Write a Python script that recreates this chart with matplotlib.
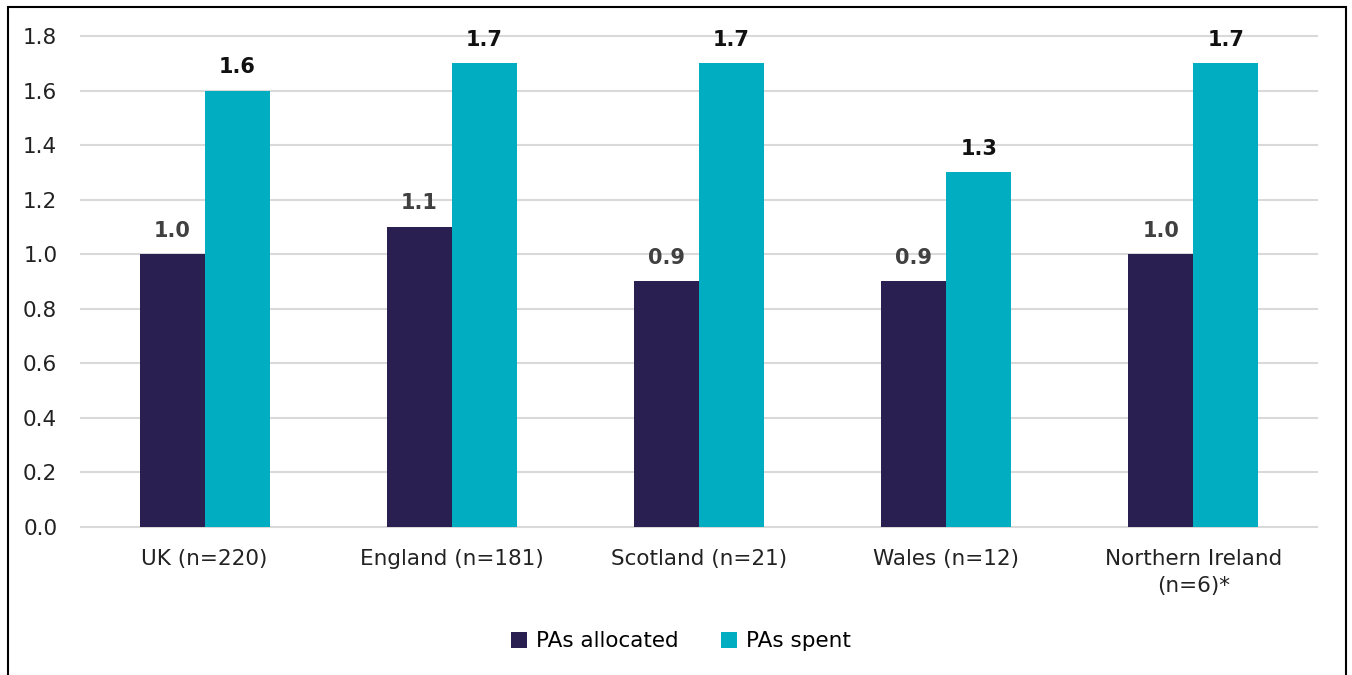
import matplotlib.pyplot as plt
import numpy as np
from matplotlib.patches import Rectangle

plt.rcParams['font.family'] = ['DejaVu Sans']

# Average PAs per nation
nations = ["UK (n=220)", "England (n=181)", "Scotland (n=21)", "Wales (n=12)",
           "Northern Ireland\n(n=6)*"]
pas_allocated = [1.0, 1.1, 0.9, 0.9, 1.0]
pas_spent = [1.6, 1.7, 1.7, 1.3, 1.7]

c_alloc = "#2a1f51"
c_spent = "#00adc1"

fig = plt.figure(figsize=(13.52, 6.75), dpi=100)
ax = fig.add_axes([0.0599, 0.2193, 0.9142, 0.7274])

x = np.arange(len(nations))
w = 0.263
b1 = ax.bar(x - w / 2, pas_allocated, w, color=c_alloc, label="PAs allocated", zorder=2)
b2 = ax.bar(x + w / 2, pas_spent, w, color=c_spent, label="PAs spent", zorder=2)

for rect, v in zip(b1, pas_allocated):
    ax.text(rect.get_x() + rect.get_width() / 2, v + 0.05, f"{v:.1f}",
            ha="center", va="bottom", fontsize=15, fontweight="bold", color="#404040")
for rect, v in zip(b2, pas_spent):
    ax.text(rect.get_x() + rect.get_width() / 2, v + 0.05, f"{v:.1f}",
            ha="center", va="bottom", fontsize=15, fontweight="bold", color="#111111")

ax.set_xlim(-0.5, len(nations) - 0.5)
ax.set_ylim(0, 1.8)
ax.set_yticks(np.arange(0, 1.81, 0.2))
ax.set_yticklabels([f"{t:.1f}" for t in np.arange(0, 1.81, 0.2)])
ax.set_xticks(x)
ax.set_xticklabels(nations, linespacing=1.45)
ax.tick_params(axis="both", length=0, labelsize=15.5, colors="#222222")
ax.tick_params(axis="y", pad=17)
ax.tick_params(axis="x", pad=16)
ax.grid(axis="y", color="#d9d9d9", linewidth=1.5, zorder=0)
for gl in ax.get_ygridlines():
    gl.set_clip_on(False)
for s in ax.spines.values():
    s.set_visible(False)

ax.legend(loc="center", bbox_to_anchor=(0.4854, -0.233), ncol=2, frameon=False,
          fontsize=15.5, handlelength=0.75, handleheight=0.75, handletextpad=0.4,
          columnspacing=2.0)

# frame around the chart
fig.patches.append(Rectangle((8 / 1352, -0.1), 1338 / 1352, 1.1 - 7 / 675,
                             transform=fig.transFigure, fill=False,
                             edgecolor="black", linewidth=1.5))

fig.savefig("out.png", dpi=100)
